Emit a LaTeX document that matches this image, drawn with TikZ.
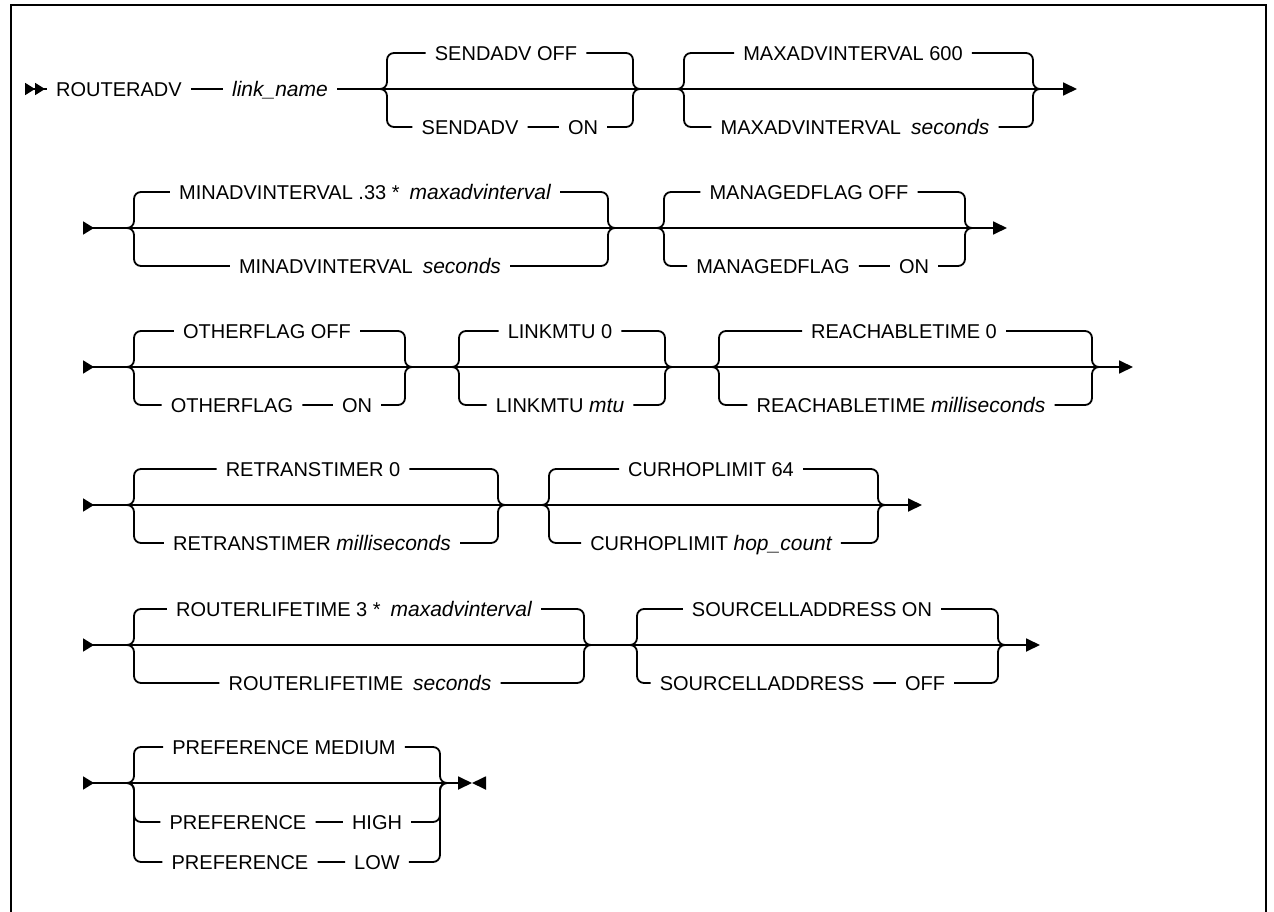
\documentclass[tikz,border=0pt]{standalone}
\usepackage{fontspec}
\setmainfont{Liberation Sans}
\usetikzlibrary{arrows.meta,positioning}
\newcommand{\argt}[1]{{\fontsize{21}{24}\selectfont\itshape #1}}
\tikzset{
  kwtext/.style={font=\fontsize{20}{23}\selectfont,inner xsep=9pt,inner ysep=0pt,text height=14.5pt,text depth=0pt},
  rail/.style={line width=1.8pt,rounded corners=7pt,line cap=butt},
  tailarr/.style={rail,-{Triangle[length=14pt,width=13pt]}},
  headarr/.style={rail,{Triangle[length=11pt,width=13pt,reversed]}-},
  twohead/.style={rail,{Triangle[length=10pt,width=12pt,reversed]Triangle[length=10pt,width=12pt,reversed]}-},
  brin/.style={to path={-- ++(7,0) |- (\tikztotarget)}},
  brout/.style={to path={-| ([xshift=-7pt]\tikztotarget) -- (\tikztotarget)}}
}
\begin{document}
\begin{tikzpicture}[x=1pt,y=-1pt]
  \useasboundingbox (0,0) rectangle (1274,912);
  \draw[line width=2.6pt] (11,930) |- (1266,5) -- (1266,930);

  % row 1
  \coordinate (r1s) at (25,89);
  \node[kwtext] (router) at (119,89) {ROUTERADV};
  \node[kwtext] (linkname) at (280,89) {\argt{link\_name}};
  \coordinate (sendL) at (380,89);
  \coordinate (sendR) at (640,89);
  \node[kwtext] (sendoff) at (506,53) {SENDADV OFF};
  \node[kwtext] (sendkw) at (470,127) {SENDADV};
  \node[kwtext] (sendon) at (583,127) {ON};
  \coordinate (maxL) at (677,89);
  \coordinate (maxR) at (1040,89);
  \node[kwtext] (maxdef) at (853,53) {MAXADVINTERVAL 600};
  \node[kwtext] (maxsec) at (855,127) {MAXADVINTERVAL\enspace\argt{seconds}};
  \coordinate (r1e) at (1077,89);

  \draw[twohead] (r1s) -- (router);
  \draw[rail] (router) -- (linkname);
  \draw[rail] (linkname) -- (sendL) -- (sendR) -- (maxL) -- (maxR);
  \draw[tailarr] (maxR) -- (r1e);
  \draw[rail] (sendL) to[brin] (sendoff) (sendoff) to[brout] (sendR);
  \draw[rail] (sendL) to[brin] (sendkw) (sendkw) -- (sendon) (sendon) to[brout] (sendR);
  \draw[rail] (maxL) to[brin] (maxdef) (maxdef) to[brout] (maxR);
  \draw[rail] (maxL) to[brin] (maxsec) (maxsec) to[brout] (maxR);

  % row 2
  \coordinate (r2s) at (83,228);
  \coordinate (minL) at (127,228);
  \coordinate (minR) at (615,228);
  \node[kwtext] (mindef) at (365,192) {MINADVINTERVAL .33 *\enspace\argt{maxadvinterval}};
  \node[kwtext] (minsec) at (370,266) {MINADVINTERVAL\enspace\argt{seconds}};
  \coordinate (mgdL) at (657,228);
  \coordinate (mgdR) at (972,228);
  \node[kwtext] (mgdoff) at (809,192) {MANAGEDFLAG OFF};
  \node[kwtext] (mgdkw) at (773,266) {MANAGEDFLAG};
  \node[kwtext] (mgdon) at (914,266) {ON};
  \coordinate (r2e) at (1007,228);

  \draw[headarr] (r2s) -- (minL);
  \draw[rail] (minL) -- (minR) -- (mgdL) -- (mgdR);
  \draw[tailarr] (mgdR) -- (r2e);
  \draw[rail] (minL) to[brin] (mindef) (mindef) to[brout] (minR);
  \draw[rail] (minL) to[brin] (minsec) (minsec) to[brout] (minR);
  \draw[rail] (mgdL) to[brin] (mgdoff) (mgdoff) to[brout] (mgdR);
  \draw[rail] (mgdL) to[brin] (mgdkw) (mgdkw) -- (mgdon) (mgdon) to[brout] (mgdR);

  % row 3
  \coordinate (r3s) at (83,367);
  \coordinate (othL) at (127,367);
  \coordinate (othR) at (412,367);
  \node[kwtext] (othoff) at (267,331) {OTHERFLAG OFF};
  \node[kwtext] (othkw) at (232,405) {OTHERFLAG};
  \node[kwtext] (othon) at (357,405) {ON};
  \coordinate (mtuL) at (452,367);
  \coordinate (mtuR) at (672,367);
  \node[kwtext] (mtudef) at (560,331) {LINKMTU 0};
  \node[kwtext] (mtuval) at (560,405) {LINKMTU \argt{mtu}};
  \coordinate (reachL) at (712,367);
  \coordinate (reachR) at (1099,367);
  \node[kwtext] (reachdef) at (904,331) {REACHABLETIME 0};
  \node[kwtext] (reachms) at (901,405) {REACHABLETIME \argt{milliseconds}};
  \coordinate (r3e) at (1133,367);

  \draw[headarr] (r3s) -- (othL);
  \draw[rail] (othL) -- (othR) -- (mtuL) -- (mtuR) -- (reachL) -- (reachR);
  \draw[tailarr] (reachR) -- (r3e);
  \draw[rail] (othL) to[brin] (othoff) (othoff) to[brout] (othR);
  \draw[rail] (othL) to[brin] (othkw) (othkw) -- (othon) (othon) to[brout] (othR);
  \draw[rail] (mtuL) to[brin] (mtudef) (mtudef) to[brout] (mtuR);
  \draw[rail] (mtuL) to[brin] (mtuval) (mtuval) to[brout] (mtuR);
  \draw[rail] (reachL) to[brin] (reachdef) (reachdef) to[brout] (reachR);
  \draw[rail] (reachL) to[brin] (reachms) (reachms) to[brout] (reachR);

  % row 4
  \coordinate (r4s) at (83,505);
  \coordinate (rtL) at (127,505);
  \coordinate (rtR) at (505,505);
  \node[kwtext] (rtdef) at (313,469) {RETRANSTIMER 0};
  \node[kwtext] (rtms) at (312,543) {RETRANSTIMER \argt{milliseconds}};
  \coordinate (hopL) at (542,505);
  \coordinate (hopR) at (885,505);
  \node[kwtext] (hopdef) at (711,469) {CURHOPLIMIT 64};
  \node[kwtext] (hopcnt) at (711,543) {CURHOPLIMIT \argt{hop\_count}};
  \coordinate (r4e) at (922,505);

  \draw[headarr] (r4s) -- (rtL);
  \draw[rail] (rtL) -- (rtR) -- (hopL) -- (hopR);
  \draw[tailarr] (hopR) -- (r4e);
  \draw[rail] (rtL) to[brin] (rtdef) (rtdef) to[brout] (rtR);
  \draw[rail] (rtL) to[brin] (rtms) (rtms) to[brout] (rtR);
  \draw[rail] (hopL) to[brin] (hopdef) (hopdef) to[brout] (hopR);
  \draw[rail] (hopL) to[brin] (hopcnt) (hopcnt) to[brout] (hopR);

  % row 5
  \coordinate (r5s) at (83,645);
  \coordinate (lifeL) at (127,645);
  \coordinate (lifeR) at (591,645);
  \node[kwtext] (lifedef) at (354,609) {ROUTERLIFETIME 3 *\enspace\argt{maxadvinterval}};
  \node[kwtext] (lifesec) at (360,683) {ROUTERLIFETIME\enspace\argt{seconds}};
  \coordinate (srcL) at (630,645);
  \coordinate (srcR) at (1005,645);
  \node[kwtext] (srcon) at (812,609) {SOURCELLADDRESS ON};
  \node[kwtext] (srckw) at (762,683) {SOURCELLADDRESS};
  \node[kwtext] (srcoff) at (925,683) {OFF};
  \coordinate (r5e) at (1040,645);

  \draw[headarr] (r5s) -- (lifeL);
  \draw[rail] (lifeL) -- (lifeR) -- (srcL) -- (srcR);
  \draw[tailarr] (srcR) -- (r5e);
  \draw[rail] (lifeL) to[brin] (lifedef) (lifedef) to[brout] (lifeR);
  \draw[rail] (lifeL) to[brin] (lifesec) (lifesec) to[brout] (lifeR);
  \draw[rail] (srcL) to[brin] (srcon) (srcon) to[brout] (srcR);
  \draw[rail] (srcL) to[brin] (srckw) (srckw) -- (srcoff) (srcoff) to[brout] (srcR);

  % row 6
  \coordinate (r6s) at (83,783);
  \coordinate (prefL) at (127,783);
  \coordinate (prefR) at (447,783);
  \node[kwtext] (prefmed) at (284,747) {PREFERENCE MEDIUM};
  \node[kwtext] (prefkwa) at (238,822) {PREFERENCE};
  \node[kwtext] (prefhigh) at (377,822) {HIGH};
  \node[kwtext] (prefkwb) at (240,862) {PREFERENCE};
  \node[kwtext] (preflow) at (377,862) {LOW};
  \coordinate (r6m) at (472,783);
  \coordinate (r6x) at (485,783);

  \draw[headarr] (r6s) -- (prefL);
  \draw[rail] (prefL) -- (prefR);
  \draw[tailarr] (prefR) -- (r6m);
  \draw[tailarr] (r6x) -- (r6m);
  \draw[rail] (prefL) to[brin] (prefmed) (prefmed) to[brout] (prefR);
  \draw[rail] (prefL) to[brin] (prefkwa) (prefkwa) -- (prefhigh) (prefhigh) to[brout] (prefR);
  \draw[rail] (prefL) to[brin] (prefkwb) (prefkwb) -- (preflow) (preflow) to[brout] (prefR);
\end{tikzpicture}
\end{document}
